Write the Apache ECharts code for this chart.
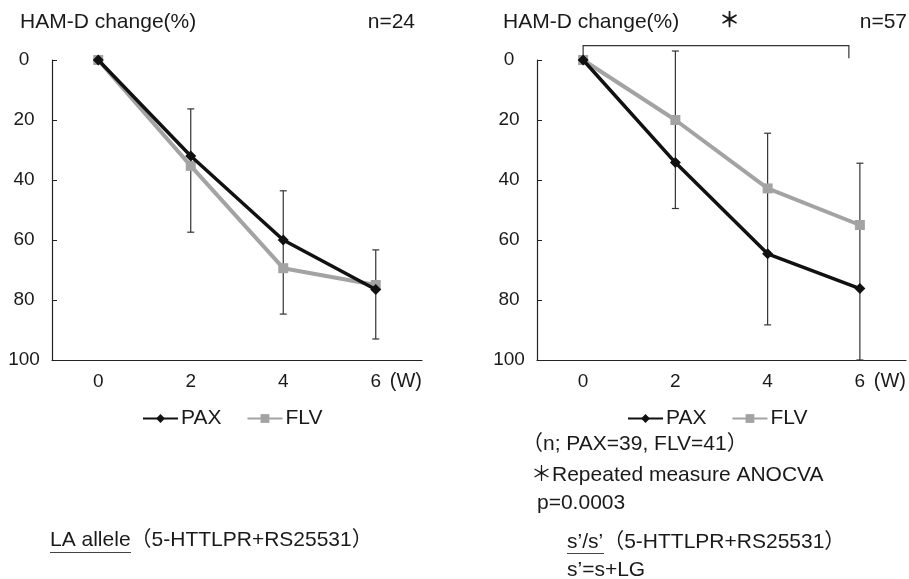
<!DOCTYPE html>
<html><head><meta charset="utf-8">
<script src="https://cdn.jsdelivr.net/npm/echarts@6/dist/echarts.min.js"></script>
<style>html,body{margin:0;padding:0;background:#fff}#c{width:909px;height:579px}</style>
</head><body><div id="c"></div>
<script>
// ---- data ----
const weeks = ['0', '2', '4', '6'];
const leftPAX = [0, 32, 60, 76.5];
const leftFLV = [0, 35.3, 69.4, 75];
const leftErrTop = [null, 16.3, 43.6, 63.3];
const leftErrBottom = [null, 57.4, 84.7, 93];
const rightPAX = [0, 34.2, 64.6, 76.2];
const rightFLV = [0, 20, 42.8, 55];
const rightErrTop = [null, -3, 24.4, 34.4];
const rightErrBottom = [null, 49.5, 88.3, 100];
const yMin = 0, yMax = 100, yStep = 20;

const FONT = "'Liberation Sans', 'Noto Sans CJK JP', sans-serif";
const TXT = '#1a1a1a';
const TF = '21px ' + FONT;

function errData(top, bottom) {
  const out = [];
  weeks.forEach((w, i) => { if (top[i] != null) out.push([i, top[i], bottom[i]]); });
  return out;
}
function errRender(params, api) {
  const x = api.value(0);
  const p1 = api.coord([x, api.value(1)]);
  const p2 = api.coord([x, api.value(2)]);
  const w = 3.5;
  const st = { stroke: '#333', lineWidth: 1.2 };
  return { type: 'group', children: [
    { type: 'line', shape: { x1: p1[0], y1: p1[1], x2: p2[0], y2: p2[1] }, style: st },
    { type: 'line', shape: { x1: p1[0] - w, y1: p1[1], x2: p1[0] + w, y2: p1[1] }, style: st },
    { type: 'line', shape: { x1: p2[0] - w, y1: p2[1], x2: p2[0] + w, y2: p2[1] }, style: st }
  ]};
}
function bracketRender(params, api) {
  const a = api.coord([api.value(0), api.value(2)]);
  const b = api.coord([api.value(1), api.value(2)]);
  const c = api.coord([api.value(0), api.value(3)]);
  const bx = b[0] - 11;
  const st = { stroke: '#333', lineWidth: 1.2, fill: null };
  return { type: 'polyline', shape: { points: [[a[0], c[1]], [a[0], a[1]], [bx, a[1]], [bx, c[1]]] }, style: st };
}

const xAxisBase = {
  type: 'category', data: weeks, boundaryGap: true, position: 'bottom',
  axisLine: { onZero: false, lineStyle: { color: '#222', width: 1.2 } },
  axisTick: { show: false },
  axisLabel: { fontSize: 19, color: TXT, fontFamily: FONT, margin: 12 },
  name: '(W)', nameLocation: 'end', nameGap: 0,
  nameTextStyle: { fontSize: 20, color: TXT, fontFamily: FONT, align: 'right', verticalAlign: 'top', padding: [11, 0, 0, 0] },
  splitLine: { show: false }
};
const yAxisBase = {
  type: 'value', inverse: true, min: yMin, max: yMax, interval: yStep,
  axisLine: { show: true, lineStyle: { color: '#222', width: 1.2 } },
  axisTick: { show: true, inside: true, length: 5, lineStyle: { color: '#222' } },
  axisLabel: { fontSize: 19, color: TXT, fontFamily: FONT, align: 'center', margin: 28 },
  splitLine: { show: false }
};

function paxSeries(idx, data) {
  return { name: 'PAX', type: 'line', xAxisIndex: idx, yAxisIndex: idx, data: data,
    symbol: 'diamond', symbolSize: 11, z: 4,
    lineStyle: { color: '#111', width: 3.5 }, itemStyle: { color: '#111' } };
}
function flvSeries(idx, data) {
  return { name: 'FLV', type: 'line', xAxisIndex: idx, yAxisIndex: idx, data: data,
    symbol: 'rect', symbolSize: 10, z: 3,
    lineStyle: { color: '#a3a3a3', width: 4 }, itemStyle: { color: '#a3a3a3' } };
}

const chart = echarts.init(document.getElementById('c'), null, { renderer: 'canvas' });
chart.setOption({
  animation: false,
  backgroundColor: '#fff',
  textStyle: { fontFamily: FONT },
  grid: [
    { left: 52, top: 60, width: 370, height: 300 },
    { left: 537, top: 60, width: 370, height: 300 }
  ],
  xAxis: [Object.assign({ gridIndex: 0 }, xAxisBase), Object.assign({ gridIndex: 1 }, xAxisBase)],
  yAxis: [Object.assign({ gridIndex: 0 }, yAxisBase), Object.assign({ gridIndex: 1, axisLabel: Object.assign({}, yAxisBase.axisLabel, { margin: 30 }) }, yAxisBase)],
  legend: [
    { left: 137, top: 403, itemWidth: 35, itemHeight: 11, itemGap: 25, data: ['PAX', 'FLV'],
      textStyle: { fontSize: 21, color: TXT, fontFamily: FONT, padding: [0, 0, 0, -2] } },
    { left: 622, top: 403, itemWidth: 35, itemHeight: 11, itemGap: 25, data: ['PAX', 'FLV'],
      textStyle: { fontSize: 21, color: TXT, fontFamily: FONT, padding: [0, 0, 0, -2] } }
  ],
  series: [
    { type: 'custom', xAxisIndex: 0, yAxisIndex: 0, renderItem: errRender, data: errData(leftErrTop, leftErrBottom), z: 2, clip: false, silent: true },
    { type: 'custom', xAxisIndex: 1, yAxisIndex: 1, renderItem: errRender, data: errData(rightErrTop, rightErrBottom), z: 2, clip: false, silent: true },
    { type: 'custom', xAxisIndex: 1, yAxisIndex: 1, renderItem: bracketRender, data: [[0, 3, -4.8, -0.6]], z: 2, clip: false, silent: true },
    flvSeries(0, leftFLV), paxSeries(0, leftPAX),
    flvSeries(1, rightFLV), paxSeries(1, rightPAX)
  ],
  graphic: [
    { type: 'text', left: 20, top: 12, style: { text: 'HAM-D change(%)', font: TF, fill: TXT } },
    { type: 'text', right: 909 - 415, top: 12, style: { text: 'n=24', font: TF, fill: TXT } },
    { type: 'text', left: 503, top: 12, style: { text: 'HAM-D change(%)', font: TF, fill: TXT } },
    { type: 'text', left: 719, top: 11, style: { text: '＊', font: 'bold 21px ' + FONT, fill: TXT } },
    { type: 'text', right: 2, top: 12, style: { text: 'n=57', font: TF, fill: TXT } },
    { type: 'text', left: 522, top: 434, style: { text: '（n; PAX=39, FLV=41）', font: TF, fill: TXT } },
    { type: 'text', left: 531, top: 465, style: { text: '＊Repeated measure ANOCVA', font: TF, fill: TXT } },
    { type: 'text', left: 537, top: 493, style: { text: 'p=0.0003', font: TF, fill: TXT } },
    { type: 'text', left: 567, top: 532, style: { text: 's’/s’（5-HTTLPR+RS25531）', font: TF, fill: TXT } },
    { type: 'line', shape: { x1: 567, y1: 553.5, x2: 604, y2: 553.5 }, style: { stroke: '#444', lineWidth: 1 } },
    { type: 'text', left: 567, top: 560, style: { text: 's’=s+LG', font: TF, fill: TXT } },
    { type: 'text', left: 50, top: 530, style: { text: 'LA allele（5-HTTLPR+RS25531）', font: TF, fill: TXT } },
    { type: 'line', shape: { x1: 50, y1: 552.5, x2: 131, y2: 552.5 }, style: { stroke: '#444', lineWidth: 1 } }
  ]
});
</script>
</body></html>
